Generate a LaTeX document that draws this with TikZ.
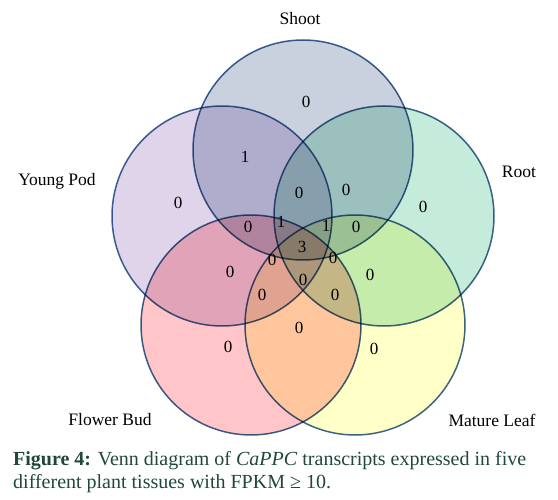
\documentclass[tikz,border=0pt]{standalone}
\usepackage{fontspec}
\setmainfont{Liberation Serif}
\definecolor{cShoot}{RGB}{201,208,222}
\definecolor{cPod}{RGB}{224,212,234}
\definecolor{cRoot}{RGB}{197,236,218}
\definecolor{cBud}{RGB}{255,197,200}
\definecolor{cLeaf}{RGB}{255,255,200}
\definecolor{cEdge}{RGB}{62,100,148}
\definecolor{cCap}{RGB}{32,72,58}
\begin{document}
\begin{tikzpicture}[x=1pt,y=-1pt,
  venn/.style={circle,draw=cEdge,line width=1.5pt,minimum size=220pt,inner sep=0pt,blend mode=multiply},
  lab/.style={font=\fontsize{17.5}{20}\selectfont,inner sep=0pt},
  num/.style={font=\fontsize{17}{20}\selectfont,inner sep=0pt},
  captext/.style={font=\fontsize{20}{23}\selectfont,text=cCap,inner sep=0pt,anchor=base west}]
\useasboundingbox (0,0) rectangle (558,500);
\node[venn,fill=cShoot] (shoot) at (303,150) {};
\node[venn,fill=cPod] (pod) at (222,216) {};
\node[venn,fill=cRoot] (root) at (384,216) {};
\node[venn,fill=cBud] (bud) at (251,325) {};
\node[venn,fill=cLeaf] (leaf) at (355,325) {};
\node[lab] (lshoot) at (300,19) {Shoot};
\node[lab] (lpod) at (57,181) {Young Pod};
\node[lab] (lroot) at (519,172) {Root};
\node[lab] (lbud) at (110,420) {Flower Bud};
\node[lab] (lleaf) at (492,420) {Mature Leaf};
\node[num] (n01) at (306,102) {0};
\node[num] (n02) at (178,203) {0};
\node[num] (n03) at (423,207) {0};
\node[num] (n04) at (228,347) {0};
\node[num] (n05) at (374,349) {0};
\node[num] (n06) at (245,157) {1};
\node[num] (n07) at (346,190) {0};
\node[num] (n08) at (299,193) {0};
\node[num] (n09) at (281,222) {1};
\node[num] (n10) at (326,226) {1};
\node[num] (n11) at (248,227) {0};
\node[num] (n12) at (356,227) {0};
\node[num] (n13) at (302,247) {3};
\node[num] (n14) at (272,260) {0};
\node[num] (n15) at (333,258) {0};
\node[num] (n16) at (230,272) {0};
\node[num] (n17) at (370,275) {0};
\node[num] (n18) at (303,280) {0};
\node[num] (n19) at (262,295) {0};
\node[num] (n20) at (335,295) {0};
\node[num] (n21) at (299,328) {0};
\node[captext] (cap1) at (13,465) {\textbf{Figure 4:} Venn diagram of \textit{CaPPC} transcripts expressed in five};
\node[captext] (cap2) at (13,488) {different plant tissues with FPKM ≥ 10.};
\end{tikzpicture}
\end{document}
